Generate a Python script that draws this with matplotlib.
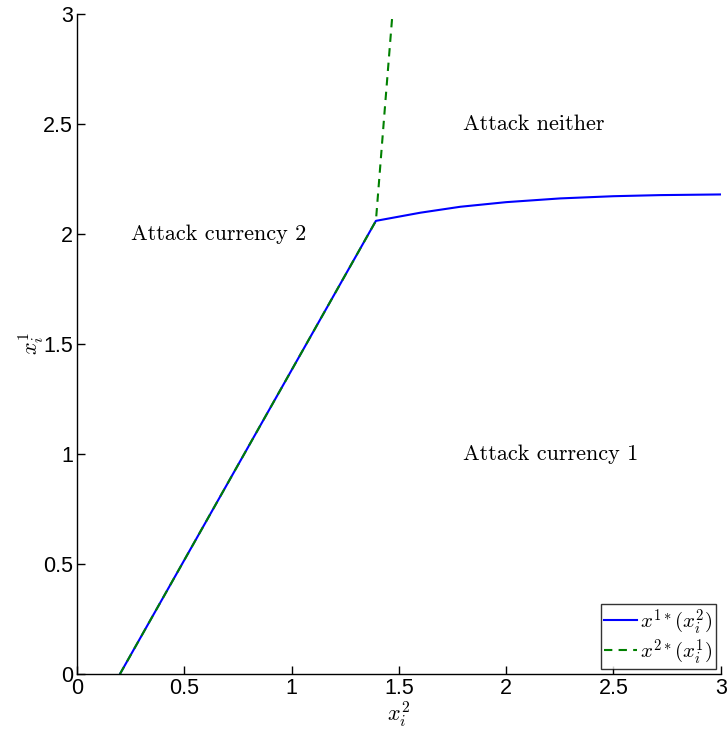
import matplotlib
matplotlib.use("Agg")
import matplotlib.pyplot as plt

plt.rcParams['mathtext.fontset'] = 'cm'
plt.rcParams['font.family'] = ['Liberation Sans', 'DejaVu Sans']

# best response of currency 1 attack threshold
x1_x = [0.2, 1.393, 1.6, 1.786, 2.0, 2.252, 2.5, 2.717, 3.0]
x1_y = [0.0, 2.060, 2.097, 2.124, 2.145, 2.162, 2.172, 2.177, 2.180]
# best response of currency 2 attack threshold
x2_x = [0.2, 1.393, 1.434, 1.47]
x2_y = [0.0, 2.060, 2.564, 3.0]

region_labels = ["Attack neither", "Attack currency 2", "Attack currency 1"]
region_pos = [(1.8, 2.5), (0.25, 2.0), (1.8, 1.0)]

ticks = [0, 0.5, 1, 1.5, 2, 2.5, 3]
tick_labels = ["0", "0.5", "1", "1.5", "2", "2.5", "3"]

fig = plt.figure(figsize=(7.28, 7.36), dpi=100)
ax = fig.add_axes([0.1058, 0.0842, 0.8842, 0.8967])

ax.plot(x1_x, x1_y, color='blue', lw=1.5, label=r'$x^{1*}(x_i^2)$')
ax.plot(x2_x, x2_y, color='green', lw=1.5, ls='--', dashes=(4, 3),
        label=r'$x^{2*}(x_i^1)$')

for txt, (tx, ty) in zip(region_labels, region_pos):
    ax.text(tx, ty, txt, fontfamily='cmr10', fontsize=16, va='center', ha='left')

ax.set_xlim(0, 3)
ax.set_ylim(0, 3)
ax.set_xticks(ticks)
ax.set_xticklabels(tick_labels)
ax.set_yticks(ticks)
ax.set_yticklabels(tick_labels)
ax.tick_params(direction='in', length=6, width=1, labelsize=15.5, pad=3)
ax.spines['top'].set_visible(False)
ax.spines['right'].set_visible(False)
ax.spines['left'].set_linewidth(1)
ax.spines['bottom'].set_linewidth(1)

ax.set_xlabel(r'$x_i^2$', fontsize=16, labelpad=0)
ax.set_ylabel(r'$x_i^1$', fontsize=16, labelpad=-2)

leg = ax.legend(loc='lower right', fontsize=15, frameon=True, fancybox=False,
                borderpad=0.15, handlelength=1.6, handletextpad=0.15,
                labelspacing=0.05, borderaxespad=0.25)
leg.get_frame().set_edgecolor('black')
leg.get_frame().set_linewidth(1)

fig.savefig("out.png", dpi=100)
